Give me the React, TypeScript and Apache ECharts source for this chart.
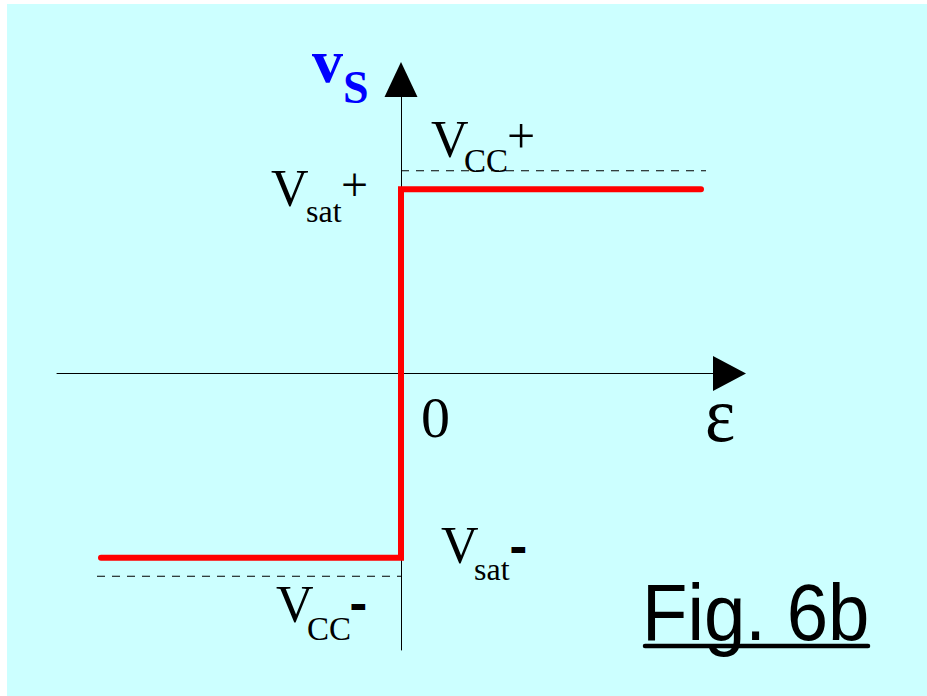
import React, { useEffect, useRef } from "react";
import * as echarts from "echarts";

// Transfer characteristic of a comparator: output v_S versus input ε
const outputStep: [number, number][] = [
  [-6, -10],
  [0, -10],
  [0, 10],
  [6, 10],
];
const supplyPlus: [number, number][] = [
  [0, 11],
  [6.1, 11],
];
const supplyMinus: [number, number][] = [
  [-6.08, -11],
  [0, -11],
];
const xRange = [-6.88, 6.24];
const yRange = [-15, 15];

const SERIF = "'Liberation Serif', 'DejaVu Serif', serif";
const SANS = "'Liberation Sans', Arial, sans-serif";

function txt(text: string, x: number, y: number, size: number, extra: any = {}, el: any = {}) {
  return {
    type: "text",
    x,
    y,
    silent: true,
    z: 10,
    ...el,
    style: {
      text,
      fontFamily: SERIF,
      fontSize: size,
      fill: "#000",
      align: "left",
      verticalAlign: "middle",
      ...extra,
    },
  };
}

// heavy superscript minus sign
const minusStyle = { fontWeight: "bold", stroke: "#000", lineWidth: 2.2 };

export default function App() {
  const ref = useRef<HTMLDivElement>(null);

  useEffect(() => {
    if (!ref.current) return;
    const chart = echarts.init(ref.current, null, { renderer: "svg" });
    const axisBase = {
      type: "value" as const,
      axisLine: {
        show: true,
        onZero: true,
        lineStyle: { color: "#000", width: 1 },
        symbol: ["none", "triangle"],
      },
      axisTick: { show: false },
      axisLabel: { show: false },
      splitLine: { show: false },
    };
    chart.setOption({
      animation: false,
      backgroundColor: "#ffffff",
      grid: { left: 57, right: 214, top: 97, bottom: 46 },
      xAxis: {
        ...axisBase,
        min: xRange[0],
        max: xRange[1],
        axisLine: { ...axisBase.axisLine, symbolSize: [35, 33], symbolOffset: [0, 16.5] },
      },
      yAxis: {
        ...axisBase,
        min: yRange[0],
        max: yRange[1],
        axisLine: { ...axisBase.axisLine, symbolSize: [33, 35], symbolOffset: [0, 17.5] },
      },
      graphic: [
        {
          type: "rect",
          silent: true,
          z: -100,
          shape: { x: 7, y: 4, width: 920, height: 692 },
          style: { fill: "#ccffff" },
        },
        // axis names
        txt("v", 312, 61, 62, { fill: "#0000ff", fontWeight: "bold" }),
        txt("S", 343, 87.5, 46, { fill: "#0000ff", fontWeight: "bold" }),
        txt("0", 421, 417, 58),
        txt("ε", 705, 415, 72, {}, { scaleY: 1.08 }),
        // supply and saturation levels
        txt("V", 431, 139.5, 52),
        txt("CC", 464, 161, 33),
        txt("+", 507, 136, 50),
        txt("V", 271, 188.5, 52),
        txt("sat", 306, 211, 32),
        txt("+", 341, 184, 48),
        txt("V", 441, 545.5, 52),
        txt("sat", 474, 569, 32),
        txt("-", 511, 546, 44, minusStyle),
        txt("V", 276, 604.5, 52),
        txt("CC", 307, 629, 33),
        txt("-", 351, 603, 44, minusStyle),
        // figure caption
        {
          type: "text",
          x: 642,
          y: 612,
          scaleX: 0.93,
          silent: true,
          z: 10,
          style: {
            text: "Fig. 6b",
            fontFamily: SANS,
            fontSize: 80,
            fill: "#000",
            align: "left",
            verticalAlign: "middle",
          },
        },
        {
          type: "line",
          silent: true,
          z: 10,
          shape: { x1: 645, y1: 646, x2: 868, y2: 646 },
          style: { stroke: "#000", lineWidth: 4.5, lineCap: "round" },
        },
      ],
      series: [
        {
          type: "line",
          data: supplyPlus,
          symbol: "none",
          silent: true,
          lineStyle: { color: "#000", width: 1.2, type: [8, 7] },
          z: 2,
        },
        {
          type: "line",
          data: supplyMinus,
          symbol: "none",
          silent: true,
          lineStyle: { color: "#000", width: 1.2, type: [8, 7] },
          z: 2,
        },
        {
          type: "line",
          data: outputStep,
          symbol: "none",
          silent: true,
          lineStyle: { color: "#ff0000", width: 6, cap: "round", join: "miter" },
          z: 3,
        },
      ],
    });
    return () => chart.dispose();
  }, []);

  return (
    <div
      ref={ref}
      style={{ position: "absolute", left: 0, top: 0, width: 927, height: 696 }}
    />
  );
}
